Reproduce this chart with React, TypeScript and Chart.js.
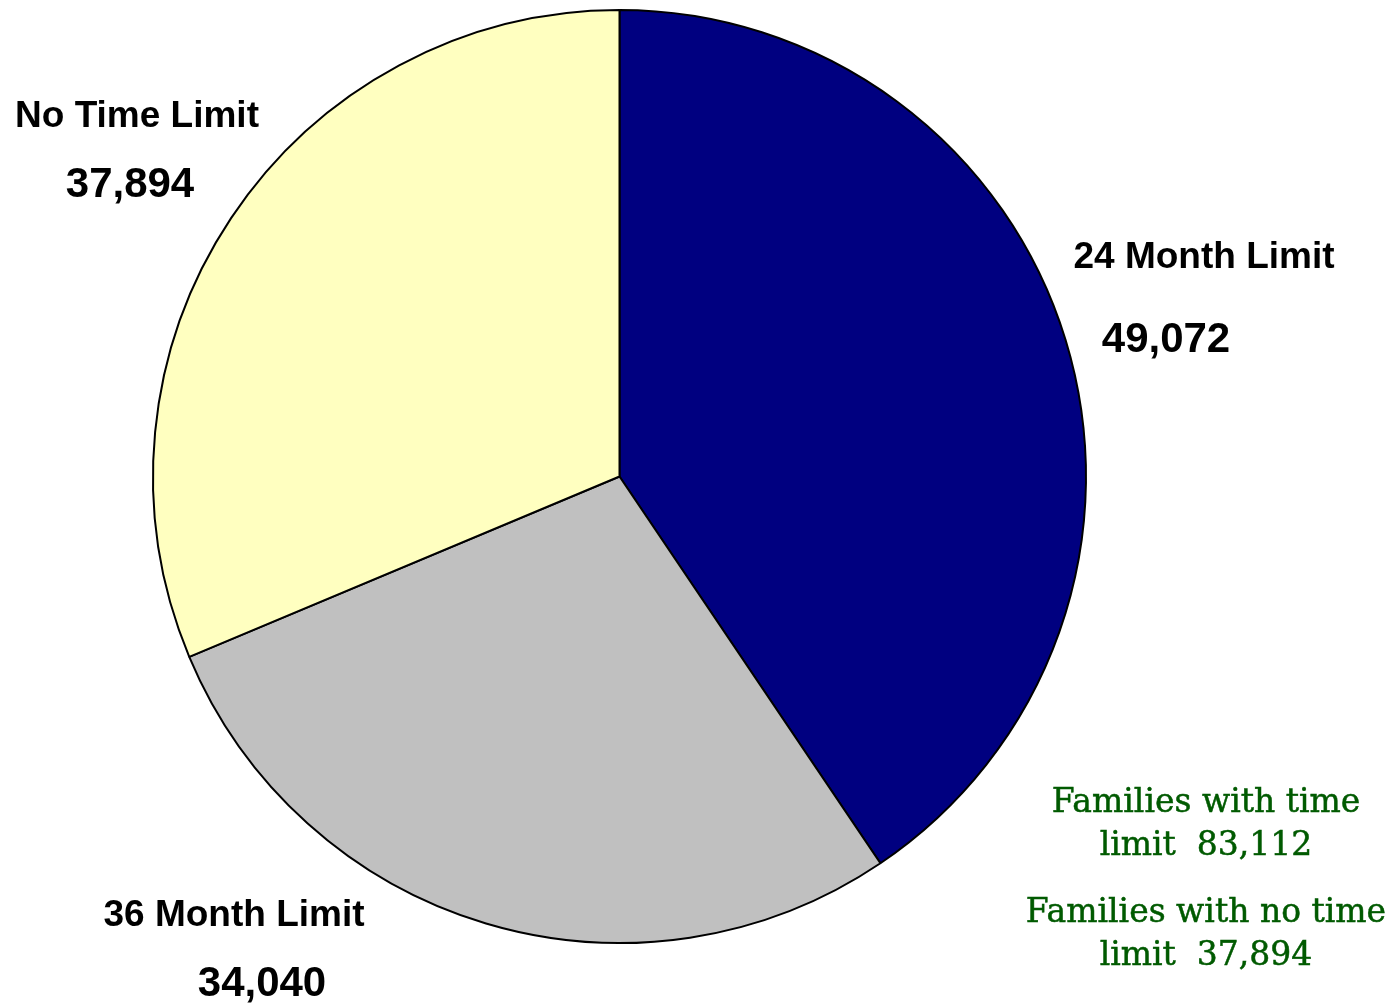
import React, { useEffect, useRef } from "react";
import { Chart, registerables } from "chart.js";

Chart.register(...registerables);

const categories = ["24 Month Limit", "36 Month Limit", "No Time Limit"];
const values = [49072, 34040, 37894];
const sliceColors = ["#000080", "#C0C0C0", "#FFFFC0"];
const noteLines = [
  "Families with time",
  "limit  83,112",
  "Families with no time",
  "limit  37,894",
];

const fmt = (v: number) => v.toLocaleString("en-US");

export default function App() {
  const ref = useRef<HTMLCanvasElement | null>(null);

  useEffect(() => {
    document.body.style.margin = "0";
    const canvas = ref.current;
    if (!canvas) return;

    const labelPlugin = {
      id: "labelsPlugin",
      afterDraw(chart: any) {
        const ctx = chart.ctx;
        ctx.save();
        ctx.textAlign = "center";
        ctx.textBaseline = "alphabetic";
        ctx.fillStyle = "#000000";
        const pos = [
          { lx: 1204, ly: 268, vx: 1166, vy: 352 },
          { lx: 234, ly: 926, vx: 262, vy: 996 },
          { lx: 137, ly: 127, vx: 130, vy: 197 },
        ];
        categories.forEach((c, i) => {
          ctx.font = "bold 37px 'Liberation Sans', Arial, sans-serif";
          ctx.fillText(c, pos[i].lx, pos[i].ly);
          ctx.font = "bold 42px 'Liberation Sans', Arial, sans-serif";
          ctx.fillText(fmt(values[i]), pos[i].vx, pos[i].vy);
        });
        ctx.fillStyle = "#005A00";
        ctx.strokeStyle = "#005A00";
        ctx.lineWidth = 0.5;
        ctx.font = "33px 'DejaVu Serif', serif";
        const ys = [812, 855, 922, 965];
        noteLines.forEach((t, i) => {
          ctx.fillText(t, 1206, ys[i]);
          ctx.strokeText(t, 1206, ys[i]);
        });
        ctx.restore();
      },
    };

    const chart = new Chart(canvas, {
      type: "pie",
      data: {
        labels: categories,
        datasets: [
          {
            data: values,
            backgroundColor: sliceColors,
            borderColor: "#000000",
            borderWidth: 2,
          },
        ],
      },
      options: {
        animation: false,
        responsive: false,
        maintainAspectRatio: false,
        layout: { padding: { left: 152, top: 9, right: 308, bottom: 59 } },
        plugins: {
          legend: { display: false },
          tooltip: { enabled: false },
        },
      },
      plugins: [labelPlugin],
    });
    return () => chart.destroy();
  }, []);

  return (
    <div style={{ position: "fixed", left: 0, top: 0, width: 1395, height: 1003, background: "#fff" }}>
      <canvas ref={ref} width={1395} height={1003} style={{ width: 1395, height: 1003 }} />
    </div>
  );
}
